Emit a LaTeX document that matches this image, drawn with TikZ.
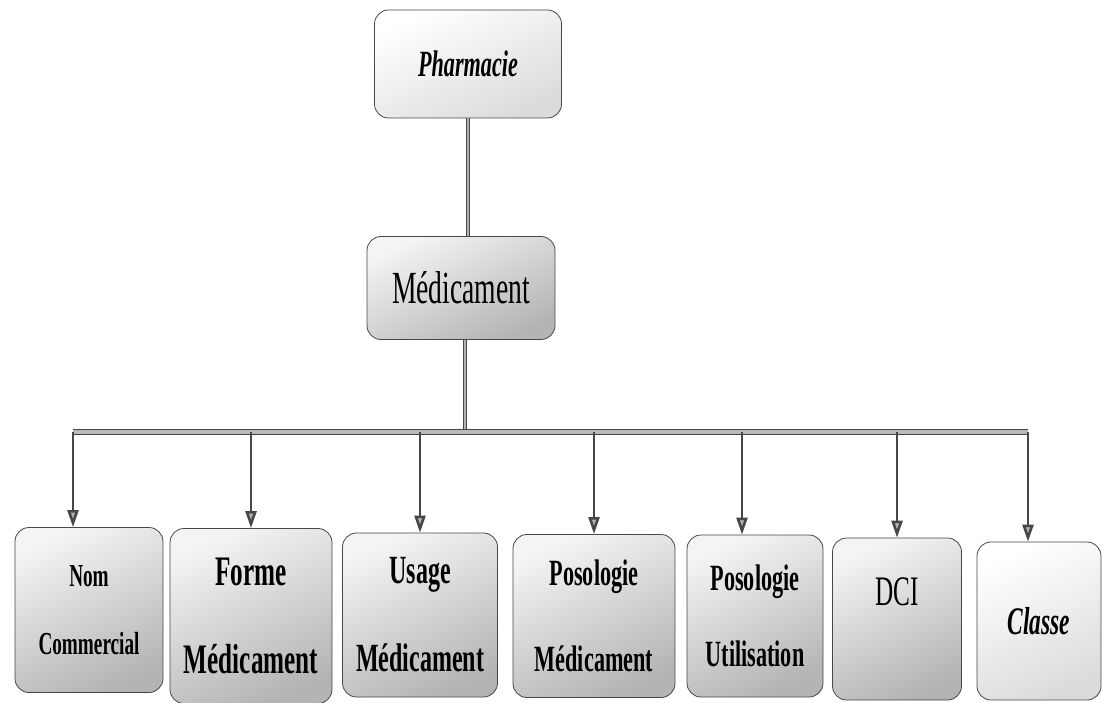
\documentclass[tikz,border=0pt]{standalone}
\usepackage{fontspec}
\setmainfont{Liberation Serif}[FakeStretch=0.6]
\definecolor{Ink}{HTML}{474747}
\definecolor{Wash}{HTML}{F4F4F4}
\definecolor{Shade}{HTML}{B4B4B4}
\usetikzlibrary{arrows.meta}

\begin{document}
\begin{tikzpicture}[x=1pt, y=-1pt,
    box/.style={
      draw=Ink, line width=0.8pt, rounded corners=14pt,
      align=center, inner sep=2pt,
      top color=Wash, bottom color=Shade, shading angle=25
    },
    pale/.style={box, top color=white, bottom color=gray!28, shading angle=25},
    link/.style={draw=Ink, line width=0.8pt, double=gray!60, double distance=1.8pt},
    bus/.style={draw=Ink, line width=1.1pt, double=gray!55, double distance=4.2pt},
    arr/.style={-{Triangle[length=17pt, width=11pt, fill=gray!60]}, Ink, line width=2.6pt}
  ]
  \useasboundingbox (0,0) rectangle (1102,703);

  \node[pale, minimum width=187pt, minimum height=108pt,
        font=\fontsize{37}{44}\selectfont\bfseries\itshape] (ph) at (468,64) {Pharmacie};
  \node[box, minimum width=188pt, minimum height=103pt,
        font=\fontsize{46}{52}\selectfont] (med) at (461,288) {Médicament};

  \node[box, minimum width=148pt, minimum height=165pt,
        font=\fontsize{32}{68}\selectfont\bfseries] (nom) at (89,610) {Nom\\Commercial};
  \node[box, minimum width=162pt, minimum height=175pt,
        font=\fontsize{42}{88}\selectfont\bfseries] (forme) at (251,616) {Forme\\Médicament};
  \node[box, minimum width=155pt, minimum height=164pt,
        font=\fontsize{40}{88}\selectfont\bfseries] (usage) at (420,615) {Usage\\Médicament};
  \node[box, minimum width=162pt, minimum height=163pt,
        font=\fontsize{37}{86}\selectfont\bfseries] (pmed) at (594,616) {Posologie\\Médicament};
  \node[box, minimum width=136pt, minimum height=162pt,
        font=\fontsize{37}{76}\selectfont\bfseries] (putil) at (755,616) {Posologie\\Utilisation};
  \node[box, minimum width=129pt, minimum height=162pt,
        font=\fontsize{42}{54}\selectfont] (dci) at (897,619) {DCI\\\phantom{I}};
  \node[pale, minimum width=124pt, minimum height=158pt,
        font=\fontsize{39}{44}\selectfont\bfseries\itshape] (cls) at (1039,621) {Classe};

  \coordinate (busl) at (73,432);
  \coordinate (busr) at (1028,432);
  \coordinate (tnom) at ([xshift=-16pt]nom.north);
  \coordinate (tputil) at ([xshift=-13pt]putil.north);
  \coordinate (tcls) at ([xshift=-11pt]cls.north);
  \coordinate (mdown) at ([xshift=4pt]med.south);

  \draw[link] (ph.south) -- (ph.south |- med.north);
  \draw[link] (mdown) -- (mdown |- busl);
  \draw[bus] (busl) -- (busr);
  \draw[arr] (tnom |- busl) -- (tnom);
  \draw[arr] (forme.north |- busl) -- (forme.north);
  \draw[arr] (usage.north |- busl) -- (usage.north);
  \draw[arr] (pmed.north |- busl) -- (pmed.north);
  \draw[arr] (tputil |- busl) -- (tputil);
  \draw[arr] (dci.north |- busl) -- (dci.north);
  \draw[arr] (tcls |- busl) -- (tcls);
\end{tikzpicture}
\end{document}
